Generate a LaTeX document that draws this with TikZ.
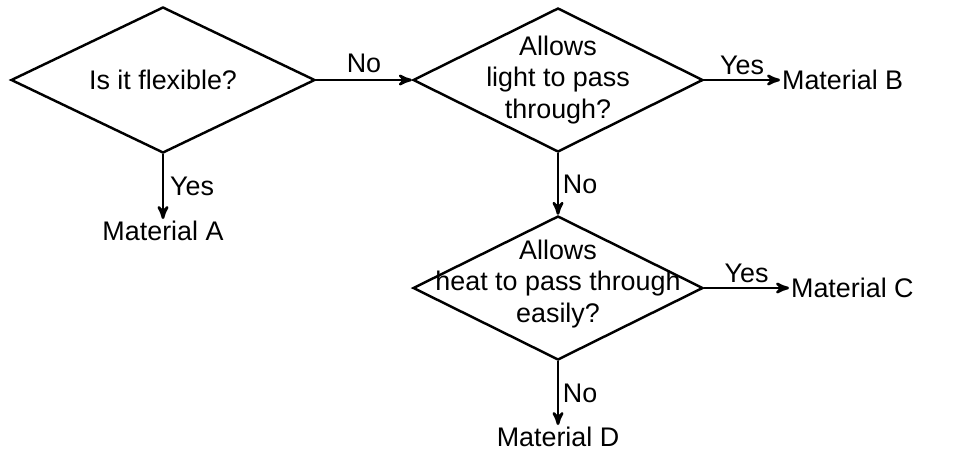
\documentclass[tikz,border=0pt]{standalone}
\usepackage{fontspec}
\setmainfont{Liberation Sans}
\usetikzlibrary{arrows,shapes,positioning}

\tikzset{
  decision/.style={diamond,draw,line width=1.4pt,inner sep=0pt,
                   minimum width=5.8cm,minimum height=2.88cm},
  qtext/.style={align=center},
  material/.style={inner sep=1pt},
  flow/.style={line width=1.5pt,->}
}

\begin{document}
\begin{tikzpicture}[>=stealth',            % arrow tip
                    font=\fontsize{15.3}{18}\selectfont]

\useasboundingbox (0,0) rectangle (19.12,9.02);

%%%% questions
\node[decision,minimum width=6.08cm,minimum height=2.92cm] (flex) at (3.26,7.42) {};
\node[qtext] (flextxt) at (flex) {Is it flexible?};

\node[decision] (light) at (11.16,7.42) {};
\node[qtext] (lighttxt) at (light) {Allows\\light to pass\\through?};

\node[decision] (heat) at (11.16,3.26) {};
\node[qtext] (heattxt) at ([yshift=0.08cm]heat) {Allows\\heat to pass through\\easily?};

%%%% materials
\node[material,anchor=north] (matA) at (3.26,4.64) {Material A};
\node[material,anchor=west] (matB) at (15.6,7.42) {Material B};
\node[material,anchor=west] (matC) at (15.78,3.26) {Material C};
\node[material,anchor=north] (matD) at (11.16,0.52) {Material D};

%%%% ARROWS
\draw[flow] (flex.east) -- node[above] (no1) {No} (light.west);
\draw[flow] (flex.south) -- node[right] (yes1) {Yes} (matA.north);

\draw[flow] (light.east) -- node[above,yshift=-1pt] (yes2) {Yes} (matB.west);
\draw[flow] (light.south) -- node[right,inner sep=2pt] (no2) {No} (heat.north);

\draw[flow] (heat.east) -- node[above,yshift=-1pt] (yes3) {Yes} (matC.west);
\draw[flow] (heat.south) -- node[right,inner sep=2pt] (no3) {No} (matD.north);

\end{tikzpicture}
\end{document}
